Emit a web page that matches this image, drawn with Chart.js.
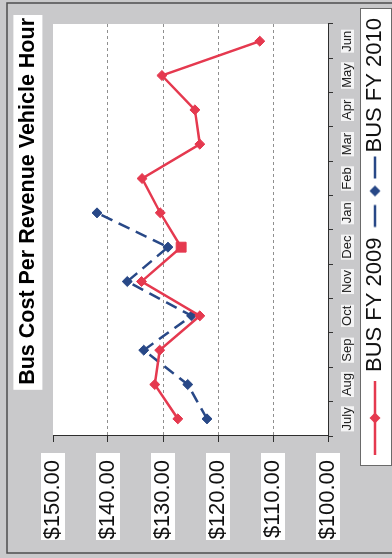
<!DOCTYPE html>
<html>
<head>
<meta charset="utf-8">
<title>Bus Cost Per Revenue Vehicle Hour</title>
<script src="https://cdn.jsdelivr.net/npm/chart.js@4/dist/chart.umd.min.js"></script>
<style>
  html, body { margin: 0; padding: 0; background: #c9c9cb; overflow: hidden; }
  /* the chart is laid out landscape and turned a quarter turn to stand upright */
  #wrap {
    position: absolute; left: 0; top: 0;
    width: 558px; height: 392px;
    transform-origin: 0 0;
    transform: translate(0, 558px) rotate(-90deg);
  }
  canvas { display: block; }
</style>
</head>
<body>
<div id="wrap"><canvas id="c" width="558" height="392"></canvas></div>
<script>
// ---- data ----
const TITLE = 'Bus Cost Per Revenue Vehicle Hour';
const MONTHS = ['July', 'Aug', 'Sep', 'Oct', 'Nov', 'Dec', 'Jan', 'Feb', 'Mar', 'Apr', 'May', 'Jun'];
const SERIES_NAMES = ['BUS FY 2009', 'BUS FY 2010'];
const FY2009 = [127.3, 131.5, 130.6, 123.3, 133.9, 126.7, 130.5, 133.8, 123.3, 124.2, 130.2, 112.4];
const FY2010 = [122.0, 125.5, 133.5, 124.8, 136.5, 129.1, 142.0, null, null, null, null, null];
const VALUE_MIN = 100;
const VALUE_MAX = 150;
const VALUE_STEP = 10;

// ---- styles ----
const FONT = '"Liberation Sans", Arial, sans-serif';
const RED = '#e5394f';
const BLUE = '#284887';
const PANEL_BG = '#c9c9cb';

// small legend swatches: line + diamond marker
function diamond(g, cx, cy, r, color) {
  g.fillStyle = color;
  g.beginPath();
  g.moveTo(cx - r, cy); g.lineTo(cx, cy - r); g.lineTo(cx + r, cy); g.lineTo(cx, cy + r);
  g.closePath(); g.fill();
}
function swatch(width, segments, markX, color) {
  const c = document.createElement('canvas');
  c.width = width; c.height = 14;
  const g = c.getContext('2d');
  g.strokeStyle = color; g.lineWidth = 2.5;
  segments.forEach(([a, b]) => { g.beginPath(); g.moveTo(a, 7); g.lineTo(b, 7); g.stroke(); });
  diamond(g, markX, 7, 5.5, color);
  return c;
}
const SWATCHES = [
  swatch(82, [[6, 80]], 43, RED),
  swatch(96, [[21.5, 43.5], [70, 92]], 57.5, BLUE)
];

// grey panel, white plot area, title and legend boxes
const panels = {
  id: 'panels',
  beforeDraw(chart) {
    const { ctx, chartArea: a, width, height } = chart;
    ctx.save();
    ctx.fillStyle = PANEL_BG;
    ctx.fillRect(0, 0, width, height);
    ctx.strokeStyle = '#4d4d4f';
    ctx.lineWidth = 1.5;
    ctx.strokeRect(5, 7, 550, 400);

    ctx.fillStyle = '#ffffff';
    ctx.fillRect(a.left, a.top, a.right - a.left, a.bottom - a.top);

    const t = chart.titleBlock;
    const tf = t.options.font;
    ctx.font = 'bold ' + tf.size + 'px ' + FONT;
    const tw = ctx.measureText(TITLE).width;
    const tcy = t.top + 10 + tf.size * 1.2 / 2;
    ctx.fillRect(t.right - tw - 5, tcy - 14.5, tw + 8, 29);

    const lg = chart.legend;
    const lx = lg.right - lg.lineWidths[0] - 9;
    const lw = lg.right + 9 - lx;
    ctx.fillRect(lx, 360.5, lw, 31);
    ctx.strokeStyle = '#6a6a6a';
    ctx.lineWidth = 1;
    ctx.strokeRect(Math.round(lx) + 0.5, 360.5, Math.round(lw), 31);
    ctx.restore();
  }
};

new Chart(document.getElementById('c'), {
  type: 'line',
  data: {
    labels: MONTHS,
    datasets: [
      {
        label: SERIES_NAMES[0],
        data: FY2009,
        borderColor: RED,
        backgroundColor: RED,
        borderWidth: 2.5,
        tension: 0,
        pointStyle: ['rectRot', 'rectRot', 'rectRot', 'rectRot', 'rectRot', 'rect', 'rectRot', 'rectRot', 'rectRot', 'rectRot', 'rectRot', 'rectRot'],
        pointRadius: [5, 5, 5, 5, 5, 7, 5, 5, 5, 5, 5, 5],
        pointBorderWidth: 1,
        pointBackgroundColor: RED,
        pointBorderColor: RED
      },
      {
        label: SERIES_NAMES[1],
        data: FY2010,
        borderColor: BLUE,
        backgroundColor: BLUE,
        borderWidth: 2.5,
        borderDash: [12, 7],
        tension: 0,
        pointStyle: 'rectRot',
        pointRadius: 5,
        pointBorderWidth: 1,
        pointBackgroundColor: BLUE,
        pointBorderColor: BLUE,
        spanGaps: false
      }
    ]
  },
  options: {
    responsive: false,
    animation: false,
    devicePixelRatio: 1,
    layout: { padding: { top: 5, left: 18, right: 18, bottom: -4 } },
    plugins: {
      title: {
        display: true,
        text: TITLE,
        align: 'end',
        color: '#000',
        font: { family: FONT, size: 21.5, weight: 'bold', lineHeight: 1.2 },
        padding: { top: 10, bottom: 12.2 }
      },
      legend: {
        display: true,
        position: 'bottom',
        align: 'end',
        labels: {
          usePointStyle: true,
          pointStyleWidth: 74,
          padding: 0,
          color: '#111',
          font: { family: FONT, size: 22 },
          generateLabels(chart) {
            const items = Chart.defaults.plugins.legend.labels.generateLabels(chart);
            items.forEach((it, i) => { it.pointStyle = SWATCHES[i]; it.rotation = 0; });
            return items;
          }
        }
      },
      tooltip: { enabled: false }
    },
    scales: {
      x: {
        type: 'category',
        offset: true,
        grid: { offset: true, drawOnChartArea: false, drawTicks: true, tickLength: 5, color: '#333', tickColor: '#333' },
        border: { display: true, color: '#2e2e2e', width: 1 },
        ticks: {
          autoSkip: false, maxRotation: 0, minRotation: 0, padding: 8,
          color: '#222',
          font: { family: FONT, size: 13, lineHeight: 1 },
          showLabelBackdrop: true,
          backdropColor: 'rgba(255,255,255,0.8)',
          backdropPadding: { top: 0, bottom: 0, left: 1, right: 1 }
        },
        afterFit(s) { s.height = 36; s.paddingLeft = 0; s.paddingRight = 24; }
      },
      y: {
        min: VALUE_MIN,
        max: VALUE_MAX,
        grid: {
          color: (c) => (c.tick && c.tick.value > VALUE_MIN && c.tick.value < VALUE_MAX) ? '#8f8f8f' : 'rgba(0,0,0,0)',
          tickColor: '#2e2e2e',
          tickLength: 6,
          lineWidth: 1
        },
        border: { display: true, color: '#2e2e2e', width: 1, dash: [3, 3] },
        ticks: {
          stepSize: VALUE_STEP,
          padding: 18,
          color: '#111',
          font: { family: FONT, size: 22, lineHeight: 1 },
          callback: (v) => '$' + Number(v).toFixed(2),
          showLabelBackdrop: true,
          backdropColor: '#ffffff',
          backdropPadding: { top: 1, bottom: 1, left: 7, right: 7 }
        },
        afterFit(s) { s.width = 104; }
      }
    }
  },
  plugins: [panels]
});
</script>
</body>
</html>
